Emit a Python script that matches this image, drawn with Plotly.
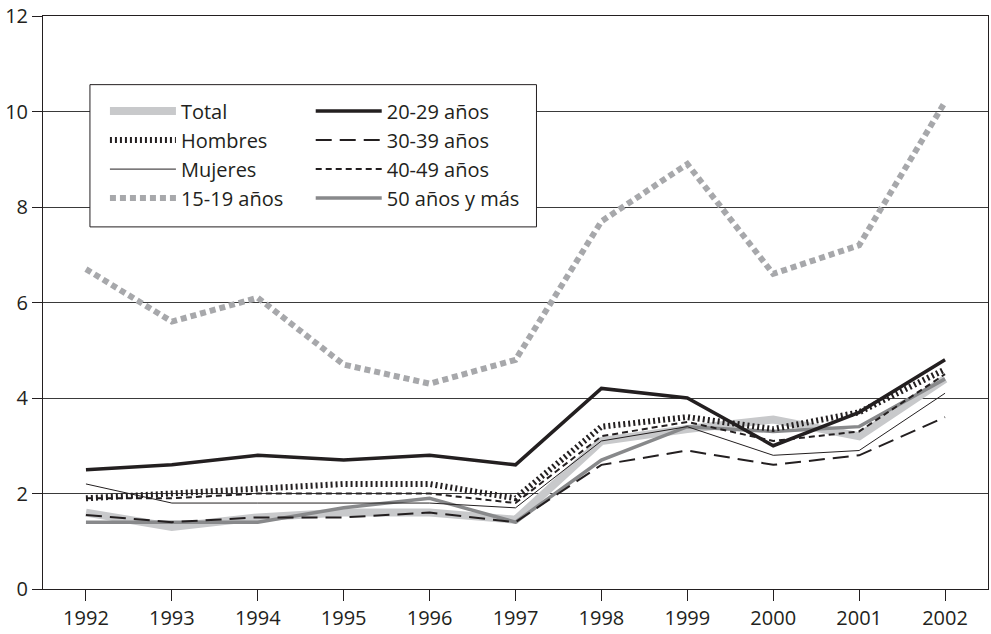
import plotly.graph_objects as go

years = [1992, 1993, 1994, 1995, 1996, 1997, 1998, 1999, 2000, 2001, 2002]

total = [1.6, 1.3, 1.5, 1.6, 1.6, 1.45, 3.1, 3.35, 3.55, 3.2, 4.4]
hombres = [1.9, 2.0, 2.1, 2.2, 2.2, 1.9, 3.4, 3.6, 3.35, 3.7, 4.6]
mujeres = [2.2, 1.8, 1.8, 1.8, 1.8, 1.7, 3.1, 3.4, 2.8, 2.9, 4.1]
a15_19 = [6.7, 5.6, 6.1, 4.7, 4.3, 4.8, 7.7, 8.9, 6.6, 7.2, 10.2]
a20_29 = [2.5, 2.6, 2.8, 2.7, 2.8, 2.6, 4.2, 4.0, 3.0, 3.7, 4.8]
a30_39 = [1.55, 1.4, 1.5, 1.5, 1.6, 1.4, 2.6, 2.9, 2.6, 2.8, 3.6]
a40_49 = [1.9, 1.9, 2.0, 2.0, 2.0, 1.8, 3.2, 3.5, 3.1, 3.3, 4.5]
a50_mas = [1.4, 1.4, 1.4, 1.7, 1.9, 1.4, 2.7, 3.4, 3.3, 3.4, 4.4]

y_ticks = [0, 2, 4, 6, 8, 10, 12]

INK = "#231f20"
FONT = "Open Sans"
FS = 20

fig = go.Figure()

def add(name, y, color, width, dash, legend, rank):
    fig.add_trace(go.Scatter(
        x=years, y=y, name=name, mode="lines",
        line=dict(color=color, width=width, dash=dash),
        legend=legend, legendrank=rank,
    ))

# drawing order (bottom to top)
add("Total", total, "#c8c9cb", 8, "solid", "legend", 1)
add("15-19 años", a15_19, "#a7a8ab", 6, "6px,4px", "legend", 4)
add("50 años y más", a50_mas, "#88898b", 3.5, "solid", "legend2", 8)
add("30-39 años", a30_39, INK, 2, "16px,8px", "legend2", 6)
add("40-49 años", a40_49, INK, 2, "6px,4px", "legend2", 7)
add("Mujeres", mujeres, INK, 1, "solid", "legend", 3)
add("Hombres", hombres, INK, 6, "2px,3px", "legend", 2)
add("20-29 años", a20_29, INK, 3.5, "solid", "legend2", 5)

W, H = 991, 634
L, R, T, B = 43, 2, 13, 45
pw, ph = W - L - R, H - T - B

def px(x):
    return (x - L) / pw

def py(y):
    return (H - B - y) / ph

leg_common = dict(
    orientation="v", xanchor="left", yanchor="top",
    bgcolor="rgba(0,0,0,0)", borderwidth=0,
    font=dict(family=FONT, size=FS, color=INK),
    itemwidth=66, tracegroupgap=0,
)

fig.update_layout(
    width=W, height=H,
    margin=dict(l=L, r=R, t=T, b=B),
    paper_bgcolor="white", plot_bgcolor="white",
    font=dict(family=FONT, size=FS, color=INK),
    legend=dict(x=px(105), y=py(89), **leg_common),
    legend2=dict(x=px(311), y=py(89), **leg_common),
    shapes=[dict(
        type="rect", xref="paper", yref="paper",
        x0=px(90), x1=px(537), y0=py(225), y1=py(82),
        line=dict(color=INK, width=1), fillcolor="white", layer="above",
    )],
    xaxis=dict(
        range=[1991.5, 2002.5], tickmode="array", tickvals=years,
        ticktext=[str(y) for y in years],
        showgrid=False, zeroline=False,
        showline=True, linecolor=INK, linewidth=1, mirror=True,
        ticks="outside", ticklen=11, tickcolor=INK,
        tickfont=dict(family=FONT, size=FS, color=INK),
        ticklabeloverflow="allow",
    ),
    yaxis=dict(
        range=[0, 12], tickmode="array", tickvals=y_ticks,
        showgrid=True, gridcolor="#3a3a3a", gridwidth=1, zeroline=False,
        showline=True, linecolor=INK, linewidth=1, mirror=True,
        ticks="outside", ticklen=10, tickcolor=INK,
        tickfont=dict(family=FONT, size=FS, color=INK),
        ticklabeloverflow="allow",
    ),
)

fig.write_html(
    "out.html",
    config={"displayModeBar": False},
    post_script="document.body.style.margin='0';document.body.style.overflow='hidden';",
)
